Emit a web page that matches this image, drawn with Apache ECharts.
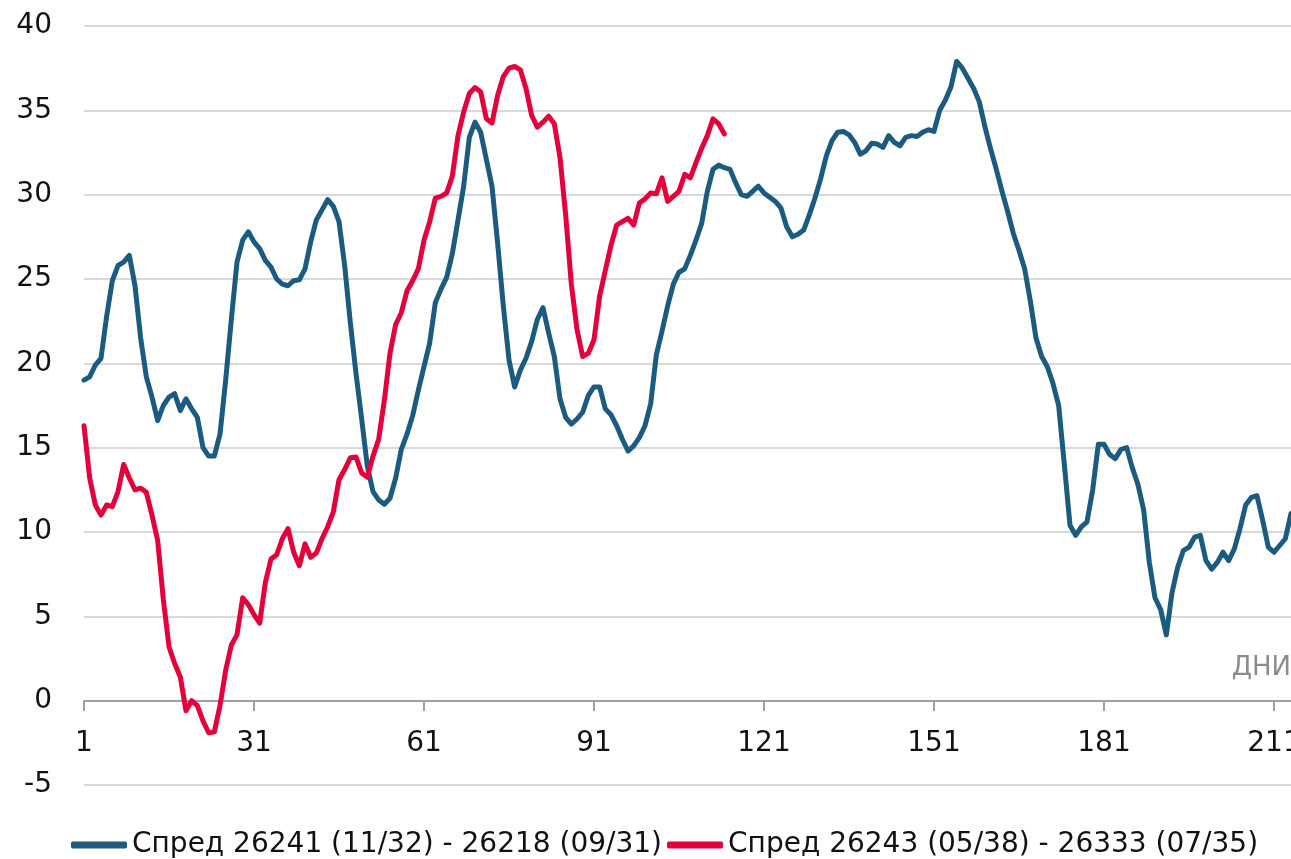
<!DOCTYPE html>
<html>
<head>
<meta charset="utf-8">
<title>Спред</title>
<script src="https://cdn.jsdelivr.net/npm/echarts@6/dist/echarts.min.js"></script>
<style>
  html, body { margin: 0; padding: 0; background: #fff; }
  #chart { width: 1291px; height: 859px; }
</style>
</head>
<body>
<div id="chart"></div>
<script>
var days = [];
for (var d = 1; d <= 214; d++) days.push(String(d));

var spread1 = [
  19.0, 19.2, 19.9, 20.3, 22.8, 24.9, 25.8, 26.0, 26.4, 24.6,
  21.5, 19.2, 18.0, 16.6, 17.5, 18.0, 18.2, 17.2, 17.9, 17.3,
  16.8, 15.0, 14.5, 14.5, 15.8, 19.0, 22.6, 26.0, 27.3, 27.8,
  27.2, 26.8, 26.1, 25.7, 25.0, 24.7, 24.6, 24.9, 24.95, 25.6,
  27.2, 28.5, 29.1, 29.7, 29.3, 28.4, 25.8, 22.4, 19.4, 16.7,
  13.9, 12.4, 11.9, 11.65, 12.0, 13.2, 14.9, 15.8, 16.9, 18.4,
  19.8, 21.2, 23.6, 24.4, 25.1, 26.5, 28.5, 30.5, 33.4, 34.3,
  33.7, 32.1, 30.5, 27.1, 23.4, 20.2, 18.6, 19.6, 20.3, 21.3,
  22.6, 23.3, 21.8, 20.4, 17.9, 16.8, 16.4, 16.7, 17.1, 18.1,
  18.6, 18.6, 17.3, 16.95, 16.3, 15.5, 14.8, 15.1, 15.6, 16.3,
  17.6, 20.5, 21.9, 23.4, 24.7, 25.4, 25.6, 26.4, 27.3, 28.3,
  30.2, 31.5, 31.75, 31.6, 31.5, 30.7, 30.0, 29.9, 30.2, 30.5,
  30.1, 29.85, 29.6, 29.2, 28.1, 27.5, 27.65, 27.9, 28.8, 29.8,
  30.95, 32.3, 33.2, 33.7, 33.75, 33.55, 33.1, 32.4, 32.6, 33.05,
  33.0, 32.8, 33.5, 33.1, 32.9, 33.4, 33.5, 33.45, 33.7, 33.85,
  33.75, 35.0, 35.6, 36.4, 37.9, 37.5, 36.9, 36.3, 35.5, 34.0,
  32.7, 31.5, 30.2, 29.0, 27.7, 26.7, 25.6, 23.7, 21.5, 20.4,
  19.8, 18.8, 17.5, 14.0, 10.4, 9.8, 10.3, 10.6, 12.5, 15.2,
  15.2, 14.6, 14.35, 14.9, 15.0, 13.8, 12.8, 11.3, 8.2, 6.1,
  5.4, 3.9, 6.4, 7.9, 8.9, 9.1, 9.7, 9.8, 8.3, 7.8,
  8.2, 8.8, 8.3, 9.0, 10.2, 11.6, 12.05, 12.15, 10.7, 9.1,
  8.8, 9.2, 9.6, 11.1
];

var spread2 = [
  16.3, 13.2, 11.6, 11.0, 11.6, 11.5, 12.4, 14.0, 13.2, 12.5,
  12.6, 12.35, 11.0, 9.5, 6.0, 3.2, 2.2, 1.4, -0.6, 0.0,
  -0.3, -1.2, -1.9, -1.85, -0.3, 1.8, 3.3, 3.9, 6.1, 5.7,
  5.1, 4.6, 7.0, 8.4, 8.65, 9.6, 10.2, 8.8, 8.0, 9.3,
  8.5, 8.75, 9.6, 10.3, 11.2, 13.1, 13.7, 14.4, 14.45, 13.5,
  13.25, 14.5, 15.5, 17.8, 20.6, 22.3, 23.0, 24.3, 24.9, 25.6,
  27.3, 28.4, 29.8, 29.9, 30.1, 31.1, 33.5, 34.9, 36.0, 36.35,
  36.1, 34.5, 34.25, 35.9, 37.0, 37.5, 37.6, 37.4, 36.3, 34.7,
  34.0, 34.3, 34.65, 34.2, 32.2, 28.8, 24.7, 22.0, 20.4, 20.6,
  21.4, 24.0, 25.5, 27.0, 28.2, 28.4, 28.6, 28.2, 29.5, 29.75,
  30.1, 30.05, 31.0, 29.6, 29.9, 30.2, 31.2, 31.0, 31.9, 32.75,
  33.5, 34.5, 34.2, 33.6
];

var seriesNames = ["Спред 26241 (11/32) - 26218 (09/31)", "Спред 26243 (05/38) - 26333 (07/35)"];

var chart = echarts.init(document.getElementById("chart"));

var option = {
  backgroundColor: "#fff",
  animation: false,
  textStyle: { fontFamily: "DejaVu Sans" },
  grid: { left: 84, right: 0, top: 26, bottom: 74, outerBoundsMode: "none", containLabel: false },
  legend: {
    data: seriesNames,
    left: 66,
    top: 826,
    icon: "roundRect",
    itemWidth: 56,
    itemHeight: 7,
    itemGap: 5,
    textStyle: { fontSize: 28, color: "#111", fontFamily: "DejaVu Sans" }
  },
  xAxis: {
    type: "category",
    data: days,
    boundaryGap: false,
    offset: -84,
    axisLine: { onZero: false, lineStyle: { color: "#a0a0a0", width: 2 } },
    axisTick: { interval: 29, length: 10, lineStyle: { color: "#a0a0a0", width: 2 } },
    axisLabel: { interval: 29, margin: 29, fontSize: 28, color: "#111", hideOverlap: false },
    splitLine: { show: false }
  },
  yAxis: {
    type: "value",
    min: -5,
    max: 40,
    interval: 5,
    axisLine: { show: false },
    axisTick: { show: false },
    axisLabel: { margin: 32, fontSize: 28, color: "#111" },
    splitLine: { lineStyle: { color: "#d9d9d9", width: 2 } }
  },
  graphic: [
    {
      type: "text",
      right: 0,
      top: 655,
      style: { text: "ДНИ", fontSize: 26, fill: "#8c8c8c", fontFamily: "DejaVu Sans" }
    }
  ],
  series: [
    {
      name: seriesNames[0],
      type: "line",
      data: spread1,
      showSymbol: false,
      color: "#1a5b7f",
      lineStyle: { width: 5, cap: "round", join: "round" }
    },
    {
      name: seriesNames[1],
      type: "line",
      data: spread2,
      showSymbol: false,
      color: "#e4003b",
      lineStyle: { width: 5, cap: "round", join: "round" }
    }
  ]
};

chart.setOption(option);
</script>
</body>
</html>
